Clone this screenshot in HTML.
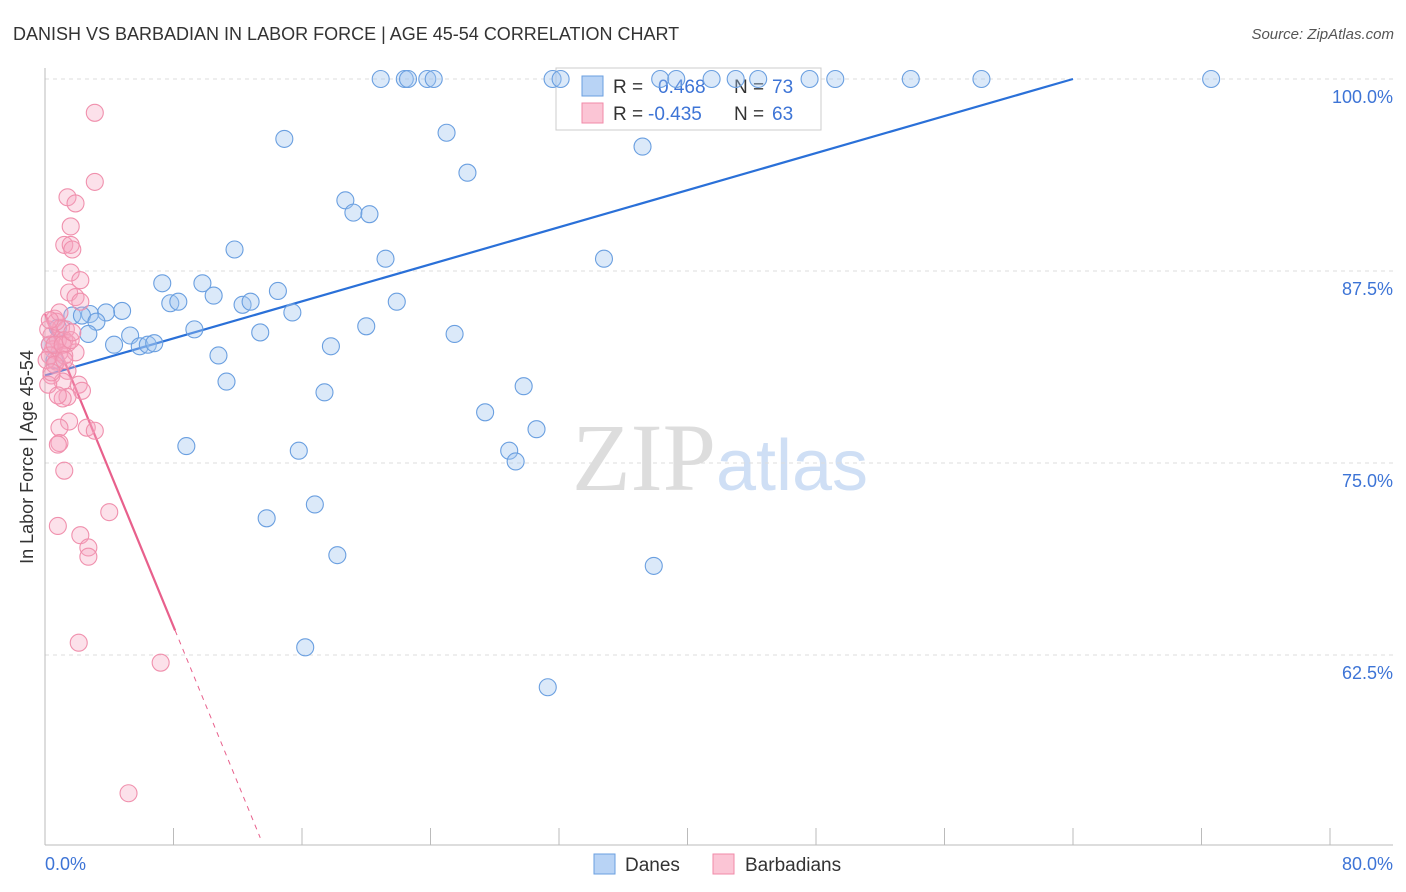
<!DOCTYPE html>
<html><head><meta charset="utf-8"><style>
body{margin:0;background:#fff;}
svg{display:block;font-family:"Liberation Sans",sans-serif;}
</style></head><body>
<svg id="chart" width="1406" height="892" viewBox="0 0 1406 892" xmlns="http://www.w3.org/2000/svg">
<text x="13" y="40" font-size="18" fill="#333">DANISH VS BARBADIAN IN LABOR FORCE | AGE 45-54 CORRELATION CHART</text>
<text x="1394" y="39" font-size="15" fill="#555" text-anchor="end" font-style="italic">Source: ZipAtlas.com</text>
<text x="720" y="490" font-size="96" text-anchor="middle" fill="#ddd" font-family="Liberation Serif,serif">ZIP<tspan fill="#cfdff5" font-family="Liberation Sans,sans-serif" font-size="72">atlas</tspan></text>
<g id="grid"></g>
<g id="axes"></g>
<g>
<rect x="556" y="68" width="265" height="62" fill="#fff" stroke="#ccc"/>
<rect x="582" y="76" width="21" height="20" fill="#b8d3f5" stroke="#6a9fe0"/>
<rect x="582" y="103" width="21" height="20" fill="#fbc5d5" stroke="#f08aa8"/>
<text x="613" y="93" font-size="19" fill="#333">R = </text><text x="658" y="93" font-size="19" fill="#3d74d6">0.468</text>
<text x="734" y="93" font-size="19" fill="#333">N = </text><text x="772" y="93" font-size="19" fill="#3d74d6">73</text>
<text x="613" y="120" font-size="19" fill="#333">R = </text><text x="648" y="120" font-size="19" fill="#3d74d6">-0.435</text>
<text x="734" y="120" font-size="19" fill="#333">N = </text><text x="772" y="120" font-size="19" fill="#3d74d6">63</text>
</g>
<g id="trend"></g>
<g id="pts"></g>
<text transform="translate(33,457) rotate(-90)" font-size="18" fill="#333" text-anchor="middle">In Labor Force | Age 45-54</text>
<text x="45" y="870" font-size="18" fill="#3d74d6">0.0%</text>
<text x="1393" y="870" font-size="18" fill="#3d74d6" text-anchor="end">80.0%</text>
<g>
<rect x="594" y="854" width="21" height="20" fill="#b8d3f5" stroke="#6a9fe0"/>
<text x="625" y="871" font-size="19" fill="#333">Danes</text>
<rect x="713" y="854" width="21" height="20" fill="#fbc5d5" stroke="#f08aa8"/>
<text x="745" y="871" font-size="19" fill="#333">Barbadians</text>
</g>
</svg>
<script>
const yTicks=[100,87.5,75,62.5];
const yTickLabels=["100.0%","87.5%","75.0%","62.5%"];
const xTicks=[0,8,16,24,32,40,48,56,64,72,80];
const danesX=[20.9,22.4,22.6,23.8,24.2,31.6,32.1,38.3,39.3,41.5,43.0,44.4,47.6,49.2,53.9,58.3,72.6,14.9,25.0,37.2,26.3,18.7,19.2,20.2,11.8,21.2,34.8,7.3,9.8,14.5,10.5,7.8,8.3,12.3,12.8,21.9,4.8,3.8,2.8,1.7,2.3,3.2,15.4,9.3,13.4,20.0,25.5,5.3,2.7,4.3,5.9,6.4,6.8,17.8,10.8,0.8,11.3,17.4,29.8,27.4,30.6,8.8,15.8,28.9,29.3,13.8,16.8,18.2,37.9,16.2,31.3,0.3,0.6];
const danesY=[100,100,100,100,100,100,100,100,100,100,100,100,100,100,100,100,100,96.1,96.5,95.6,93.9,92.1,91.3,91.2,88.9,88.3,88.3,86.7,86.7,86.2,85.9,85.4,85.5,85.3,85.5,85.5,84.9,84.8,84.7,84.6,84.6,84.2,84.8,83.7,83.5,83.9,83.4,83.3,83.4,82.7,82.6,82.7,82.8,82.6,82.0,83.8,80.3,79.6,80.0,78.3,77.2,76.1,75.8,75.8,75.1,71.4,72.3,69.0,68.3,63.0,60.4,82.7,81.7];
const barbX=[3.1,3.1,1.4,1.9,1.6,1.2,1.6,1.7,1.6,2.2,1.5,1.9,2.2,0.6,1.0,1.3,0.4,0.8,1.2,1.4,0.5,0.9,1.9,0.7,1.4,0.4,2.1,1.1,2.3,1.4,1.1,1.5,0.9,2.6,3.1,0.9,0.8,1.2,4.0,0.8,2.2,2.7,2.7,2.1,7.2,5.2,0.3,0.2,0.3,0.6,0.1,0.7,0.9,1.2,1.1,0.2,0.6,1.6,1.2,0.4,0.8,1.7,0.3];
const barbY=[97.8,93.3,92.3,91.9,90.4,89.2,89.2,88.9,87.4,86.9,86.1,85.8,85.5,84.4,83.8,83.7,83.3,83.0,83.0,82.8,82.4,82.2,82.2,81.6,81.0,80.7,80.1,80.3,79.7,79.3,79.2,77.7,77.3,77.3,77.1,76.3,76.2,74.5,71.8,70.9,70.3,69.5,68.9,63.3,62.0,53.5,82.7,83.7,82.0,82.7,81.7,84.2,84.8,82.0,82.7,80.1,81.4,83.0,81.7,80.9,79.4,83.5,84.3];
const danesTrend=[0,80.7,64,100];
const barbTrend=[0,84.7,8.1,64.1,13.4,50.6];
const NS="http://www.w3.org/2000/svg";
const X=v=>45+v/80*1285;
const Y=v=>79+(100-v)/12.5*192;
function mk(tag,attrs,parent){const e=document.createElementNS(NS,tag);for(const k in attrs)e.setAttribute(k,attrs[k]);parent.appendChild(e);return e;}
const grid=document.getElementById('grid'),axes=document.getElementById('axes'),trend=document.getElementById('trend'),pts=document.getElementById('pts');
yTicks.forEach((t,i)=>{
 const l=mk('line',{x1:45,x2:1393,y1:Y(t),y2:Y(t),stroke:'#ddd','stroke-dasharray':'4,4'},grid);
 
 
 const tx=mk('text',{x:1393,y:Y(t)+24,'font-size':18,fill:'#3d74d6','text-anchor':'end'},grid);
 tx.textContent=yTickLabels[i];
 
 
});
const ya=mk('line',{x1:45,x2:45,y1:68,y2:845,stroke:'#bbb'},axes);


const xa=mk('line',{x1:45,x2:1393,y1:845,y2:845,stroke:'#bbb'},axes);


xTicks.forEach(t=>{
 const l=mk('line',{x1:X(t),x2:X(t),y1:828,y2:845,stroke:'#bbb'},axes);
 
 
});
function pointsFor(xs,ys,fill,stroke,name){
 xs.forEach((x,i)=>{
  const c=mk('circle',{cx:X(x),cy:Y(ys[i]),r:8.5,fill:fill,stroke:stroke,'stroke-width':1.1},pts);
  
  
 });
}
pointsFor(danesX,danesY,'rgba(160,196,240,0.38)','#6a9fe0','danes-point');
pointsFor(barbX,barbY,'rgba(245,165,190,0.33)','#f090ad','barbadians-point');
const bt=mk('line',{x1:X(danesTrend[0]),y1:Y(danesTrend[1]),x2:X(danesTrend[2]),y2:Y(danesTrend[3]),stroke:'#2a70d8','stroke-width':2.2},trend);


const pt=mk('line',{x1:X(barbTrend[0]),y1:Y(barbTrend[1]),x2:X(barbTrend[2]),y2:Y(barbTrend[3]),stroke:'#e8608c','stroke-width':2.2},trend);


const pd=mk('line',{x1:X(barbTrend[2]),y1:Y(barbTrend[3]),x2:X(barbTrend[4]),y2:Y(barbTrend[5]),stroke:'#e8608c','stroke-width':1,'stroke-dasharray':'5,5'},trend);


</script>
</body></html>
